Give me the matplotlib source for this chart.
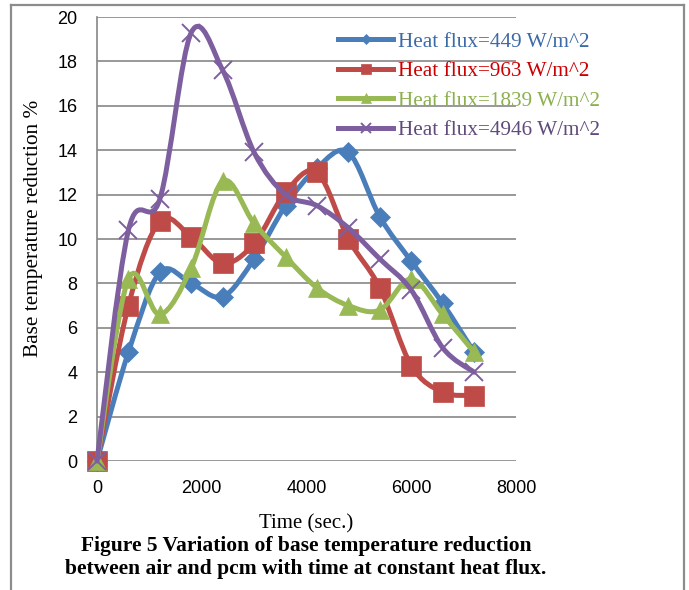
import numpy as np
import matplotlib.pyplot as plt
from matplotlib.path import Path
from matplotlib.patches import PathPatch
from matplotlib.lines import Line2D

# time steps (s)
time_s = [0, 600, 1200, 1800, 2400, 3000, 3600, 4200, 4800, 5400, 6000, 6600, 7200]

# base temperature reduction (%) for each heat flux
flux_449 = [0, 4.9, 8.5, 8.0, 7.4, 9.1, 11.5, 13.2, 13.9, 11.0, 9.0, 7.1, 4.9]
flux_963 = [0, 7.0, 10.8, 10.1, 8.9, 9.8, 12.1, 13.0, 10.0, 7.8, 4.3, 3.1, 2.95]
flux_1839 = [0, 8.2, 6.6, 8.7, 12.6, 10.7, 9.2, 7.8, 7.0, 6.8, 8.2, 6.6, 4.9]
flux_4946 = [0, 10.4, 11.8, 19.3, 17.6, 13.9, 12.0, 11.5, 10.5, 9.1, 7.7, 5.1, 4.0]

labels = ['Heat flux=449 W/m^2', 'Heat flux=963 W/m^2',
          'Heat flux=1839 W/m^2', 'Heat flux=4946 W/m^2']
line_colors = ['#4A7EBB', '#BE4B48', '#98B954', '#7D5FA0']
text_colors = ['#3C69A8', '#CC0000', '#8CB04E', '#604A7B']
markers = ['D', 's', '^', 'x']
msizes = [10, 14, 13, 13]

SERIF = 'Liberation Serif'


def smooth_path(x, y):
    # excel-like smoothed line: catmull-rom segments as cubic bezier
    p = np.column_stack([x, y]).astype(float)
    pts = np.vstack([p[0], p, p[-1]])
    verts = [p[0]]
    codes = [Path.MOVETO]
    for i in range(1, len(pts) - 2):
        c1 = pts[i] + (pts[i + 1] - pts[i - 1]) / 6.0
        c2 = pts[i + 1] - (pts[i + 2] - pts[i]) / 6.0
        verts += [c1, c2, pts[i + 1]]
        codes += [Path.CURVE4] * 3
    return Path(verts, codes)


fig = plt.figure(figsize=(6.89, 5.90), dpi=100)
ax = fig.add_axes([97 / 689, 1 - 461 / 590, (516 - 97) / 689, (461 - 17) / 590])

series = [flux_449, flux_963, flux_1839, flux_4946]
for k, ys in enumerate(series):
    ax.add_patch(PathPatch(smooth_path(time_s, ys), fill=False,
                           edgecolor=line_colors[k], lw=3.6, zorder=3 + k,
                           capstyle='round', joinstyle='round', clip_on=False))
    mew = 1.4 if markers[k] == 'x' else 0.5
    ax.plot(time_s, ys, linestyle='none', marker=markers[k], ms=msizes[k],
            color=line_colors[k], mew=mew, zorder=3 + k, clip_on=False)

ax.set_xlim(0, 8000)
ax.set_ylim(0, 20)
ax.set_xticks([0, 2000, 4000, 6000, 8000])
ax.set_yticks(range(0, 21, 2))
ax.yaxis.grid(True, color='#868686', lw=1.2)
ax.set_axisbelow(True)
for s in ['top', 'right', 'bottom']:
    ax.spines[s].set_visible(False)
ax.spines['left'].set_color('#868686')
ax.spines['left'].set_linewidth(1.2)
ax.tick_params(length=0, labelsize=13, pad=14)
for t in ax.get_xticklabels() + ax.get_yticklabels():
    t.set_fontfamily('Liberation Sans')

ax.set_xlabel('Time (sec.)', fontfamily=SERIF, fontsize=15, labelpad=12)
ax.set_ylabel('Base temperature reduction %', fontfamily=SERIF, fontsize=15.3)
ax.yaxis.set_label_coords(-0.128, 0.525)

handles = [Line2D([], [], color=line_colors[k], lw=3.6, marker=markers[k],
                  ms=msizes[k] * 0.55, mew=1.4 if markers[k] == 'x' else 0.5)
           for k in range(4)]
leg = ax.legend(handles, labels, loc='upper left', bbox_to_anchor=(338 / 689, 1 - 32 / 590),
                bbox_transform=fig.transFigure, frameon=False, numpoints=1,
                prop={'family': SERIF, 'size': 15.3}, handlelength=2.6,
                handletextpad=0.2, labelspacing=0.45, borderaxespad=0, borderpad=0)
for t, c in zip(leg.get_texts(), text_colors):
    t.set_color(c)

fig.text(306 / 689, 1 - 546 / 590, 'Figure 5 Variation of base temperature reduction',
         ha='center', va='center', fontfamily=SERIF, fontweight='bold', fontsize=15.5)
fig.text(306 / 689, 1 - 569 / 590, 'between air and pcm with time at constant heat flux.',
         ha='center', va='center', fontfamily=SERIF, fontweight='bold', fontsize=15.5)

# outer frame
fc = '#8C8C8C'
fig.add_artist(Line2D([11 / 689, 684 / 689], [1 - 5 / 590, 1 - 5 / 590], color=fc, lw=1.6))
fig.add_artist(Line2D([11 / 689, 11 / 689], [0, 1 - 5 / 590], color=fc, lw=1.6))
fig.add_artist(Line2D([684 / 689, 684 / 689], [0, 1 - 5 / 590], color=fc, lw=1.6))

fig.savefig('out.png', dpi=100)
